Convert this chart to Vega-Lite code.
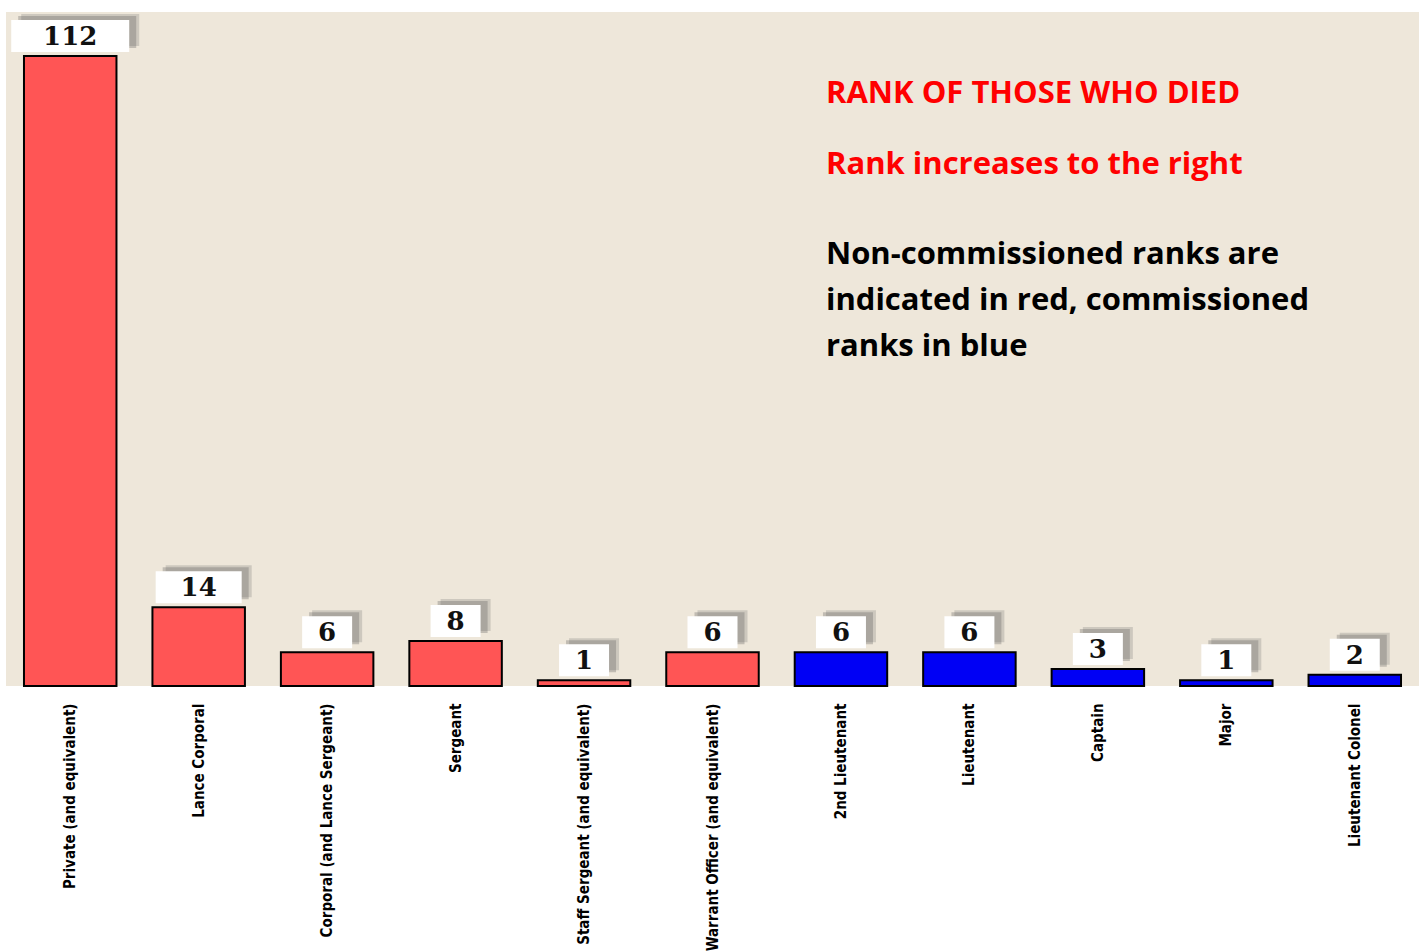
{
  "$schema": "https://vega.github.io/schema/vega-lite/v6.json",
  "width": 1413,
  "height": 674,
  "padding": {"left": 6, "top": 12, "right": 3, "bottom": 0},
  "background": "white",
  "config": {"view": {"fill": "#eee7da", "stroke": null}},
  "datasets": {
    "ranks": [
      {"rank": "Private (and equivalent)", "deaths": 112, "class": "Non-commissioned"},
      {"rank": "Lance Corporal", "deaths": 14, "class": "Non-commissioned"},
      {"rank": "Corporal (and Lance Sergeant)", "deaths": 6, "class": "Non-commissioned"},
      {"rank": "Sergeant", "deaths": 8, "class": "Non-commissioned"},
      {"rank": "Staff Sergeant (and equivalent)", "deaths": 1, "class": "Non-commissioned"},
      {"rank": "Warrant Officer (and equivalent)", "deaths": 6, "class": "Non-commissioned"},
      {"rank": "2nd Lieutenant", "deaths": 6, "class": "Commissioned"},
      {"rank": "Lieutenant", "deaths": 6, "class": "Commissioned"},
      {"rank": "Captain", "deaths": 3, "class": "Commissioned"},
      {"rank": "Major", "deaths": 1, "class": "Commissioned"},
      {"rank": "Lieutenant Colonel", "deaths": 2, "class": "Commissioned"}
    ],
    "notes": [
      {"text": "RANK OF THOSE WHO DIED", "anchor": "2nd Lieutenant", "level": 103.6, "kind": "heading"},
      {"text": "Rank increases to the right", "anchor": "2nd Lieutenant", "level": 91.0, "kind": "heading"},
      {"text": "Non-commissioned ranks are", "anchor": "2nd Lieutenant", "level": 75.0, "kind": "note"},
      {"text": "indicated in red, commissioned", "anchor": "2nd Lieutenant", "level": 66.8, "kind": "note"},
      {"text": "ranks in blue", "anchor": "2nd Lieutenant", "level": 58.7, "kind": "note"}
    ]
  },
  "encoding": {
    "x": {
      "field": "rank",
      "type": "nominal",
      "scale": {
        "domain": ["Private (and equivalent)", "Lance Corporal", "Corporal (and Lance Sergeant)", "Sergeant", "Staff Sergeant (and equivalent)", "Warrant Officer (and equivalent)", "2nd Lieutenant", "Lieutenant", "Captain", "Major", "Lieutenant Colonel"],
        "paddingInner": 0.28,
        "paddingOuter": 0.14
      },
      "axis": {
        "title": null,
        "labelAngle": -90,
        "labelAlign": "right",
        "labelBaseline": "middle",
        "labelFont": "DejaVu Sans Condensed, Liberation Sans Narrow, DejaVu Sans, sans-serif",
        "labelFontSize": 15,
        "labelFontWeight": "bold",
        "labelColor": "black",
        "labelPadding": 17,
        "labelLimit": 0,
        "labelOverlap": false,
        "domain": false,
        "ticks": false,
        "grid": false
      }
    },
    "y": {
      "field": "deaths",
      "type": "quantitative",
      "scale": {"domain": [0, 119.8], "nice": false, "zero": true},
      "axis": null
    }
  },
  "layer": [
    {
      "data": {"name": "ranks"},
      "mark": {"type": "bar", "stroke": "black", "strokeWidth": 2},
      "encoding": {
        "color": {
          "field": "class",
          "type": "nominal",
          "scale": {"domain": ["Non-commissioned", "Commissioned"], "range": ["#ff5555", "#0000f5"]},
          "legend": null
        }
      }
    },
    {
      "data": {"name": "ranks"},
      "mark": {"type": "point", "filled": true, "fill": "#5a5a5a", "opacity": 0.22, "size": 2500, "strokeWidth": 0, "xOffset": 10, "yOffset": -26},
      "encoding": {
        "shape": {
          "condition": [
            {"test": "datum.deaths >= 100", "value": "M-2.36,-0.64H2.36V0.64H-2.36Z"},
            {"test": "datum.deaths >= 10", "value": "M-1.72,-0.64H1.72V0.64H-1.72Z"}
          ],
          "value": "M-1,-0.64H1V0.64H-1Z"
        }
      }
    },
    {
      "data": {"name": "ranks"},
      "mark": {"type": "point", "filled": true, "fill": "#5a5a5a", "opacity": 0.3, "size": 2500, "strokeWidth": 0, "xOffset": 7, "yOffset": -24},
      "encoding": {
        "shape": {
          "condition": [
            {"test": "datum.deaths >= 100", "value": "M-2.36,-0.64H2.36V0.64H-2.36Z"},
            {"test": "datum.deaths >= 10", "value": "M-1.72,-0.64H1.72V0.64H-1.72Z"}
          ],
          "value": "M-1,-0.64H1V0.64H-1Z"
        }
      }
    },
    {
      "data": {"name": "ranks"},
      "mark": {"type": "point", "filled": true, "fill": "white", "opacity": 1, "size": 2500, "strokeWidth": 0, "yOffset": -20},
      "encoding": {
        "shape": {
          "condition": [
            {"test": "datum.deaths >= 100", "value": "M-2.36,-0.64H2.36V0.64H-2.36Z"},
            {"test": "datum.deaths >= 10", "value": "M-1.72,-0.64H1.72V0.64H-1.72Z"}
          ],
          "value": "M-1,-0.64H1V0.64H-1Z"
        }
      }
    },
    {
      "data": {"name": "ranks"},
      "mark": {"type": "text", "font": "DejaVu Serif", "fontWeight": "bold", "fontSize": 26, "baseline": "middle", "align": "center", "yOffset": -19, "color": "#111"},
      "encoding": {"text": {"field": "deaths", "type": "quantitative"}}
    },
    {
      "data": {"name": "notes"},
      "mark": {"type": "text", "font": "Open Sans", "fontWeight": "bold", "fontSize": 31, "align": "left", "baseline": "alphabetic", "dx": -15},
      "encoding": {
        "x": {"field": "anchor", "type": "nominal"},
        "y": {"field": "level", "type": "quantitative"},
        "text": {"field": "text", "type": "nominal"},
        "color": {"condition": {"test": "datum.kind === 'heading'", "value": "#ff0000"}, "value": "#000000"}
      }
    }
  ]
}
